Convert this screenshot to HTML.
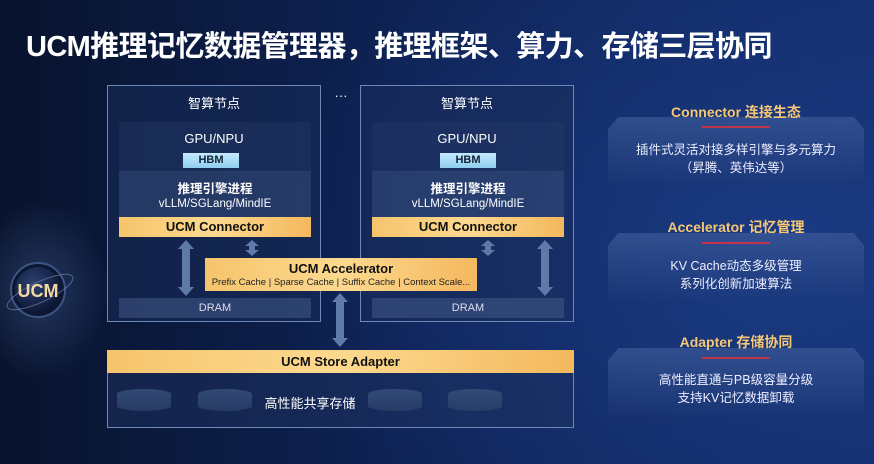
<!DOCTYPE html>
<html><head><meta charset="utf-8"><style>
*{margin:0;padding:0;box-sizing:border-box}
body{width:874px;height:464px;overflow:hidden;position:relative;font-family:"Liberation Sans","Noto Sans CJK SC",sans-serif;
background:radial-gradient(ellipse 500px 400px at 780px 250px,#1a3a82 0%,rgba(20,45,110,0) 100%),linear-gradient(90deg,#08132d 0%,#0e2253 45%,#132d6c 100%);color:#fff}
.a{position:absolute}
.t{font-weight:bold;font-size:29px;left:26px;top:23px;letter-spacing:-0.6px}
.node{border:1.5px solid #6d88b8;background:rgba(25,45,90,0.55)}
.c{text-align:center;white-space:nowrap}
.hbm{background:linear-gradient(#c4eaff,#8fcdf0);color:#123;font-size:11px;font-weight:bold;text-align:center;line-height:15px}
.eng{background:rgba(60,85,130,0.45)}
.org{background:linear-gradient(90deg,#f6c46c,#fcd98f 50%,#f4b85e);color:#111;font-weight:bold;text-align:center}
.dram{background:rgba(65,90,135,0.55);font-size:11px;text-align:center;line-height:20px;color:#dde}
.cyl{background:linear-gradient(#3a527e,#2a416a);border-radius:27px/5px;height:22px;width:54px;opacity:.8}
.pn{background:linear-gradient(rgba(70,100,160,0.55),rgba(30,55,110,0.15));clip-path:polygon(4% 0,96% 0,100% 18%,100% 100%,0 100%,0 18%)}
.h{color:#f6c874;font-weight:bold;font-size:14px}
.rl{height:2px;background:#c2344a;width:68px;left:702px}
.p{font-size:12.5px;line-height:18px;color:#eef}
</style></head><body>
<div class="a" style="left:0;top:200px;width:110px;height:230px;background:radial-gradient(ellipse 70px 90px at 40px 90px,rgba(90,120,180,.35),rgba(0,0,0,0))"></div>
<div class="a t">UCM推理记忆数据管理器，推理框架、算力、存储三层协同</div>

<div class="a node" style="left:107px;top:85px;width:214px;height:237px"></div>
<div class="a node" style="left:360px;top:85px;width:214px;height:237px"></div>
<div class="a c" style="left:324px;top:88px;width:34px;font-size:13px">···</div>

<div class="a c" style="left:107px;top:93px;width:214px;font-size:13px">智算节点</div>
<div class="a" style="left:119px;top:122px;width:192px;height:50px;background:rgba(40,60,105,.35)"></div>
<div class="a c" style="left:107px;top:131px;width:214px;font-size:13px">GPU/NPU</div>
<div class="a hbm" style="left:183px;top:153px;width:56px;height:15px">HBM</div>
<div class="a eng" style="left:119px;top:171px;width:192px;height:46px"></div>
<div class="a c" style="left:119px;top:178px;width:192px;font-size:12.5px;font-weight:bold">推理引擎进程</div>
<div class="a c" style="left:119px;top:198px;width:192px;font-size:11.5px">vLLM/SGLang/MindIE</div>
<div class="a org" style="left:119px;top:217px;width:192px;height:20px;font-size:13px;line-height:20px">UCM Connector</div>
<div class="a dram" style="left:119px;top:298px;width:192px;height:20px">DRAM</div>

<div class="a c" style="left:360px;top:93px;width:214px;font-size:13px">智算节点</div>
<div class="a" style="left:372px;top:122px;width:192px;height:50px;background:rgba(40,60,105,.35)"></div>
<div class="a c" style="left:360px;top:131px;width:214px;font-size:13px">GPU/NPU</div>
<div class="a hbm" style="left:440px;top:153px;width:56px;height:15px">HBM</div>
<div class="a eng" style="left:372px;top:171px;width:192px;height:46px"></div>
<div class="a c" style="left:372px;top:178px;width:192px;font-size:12.5px;font-weight:bold">推理引擎进程</div>
<div class="a c" style="left:372px;top:198px;width:192px;font-size:11.5px">vLLM/SGLang/MindIE</div>
<div class="a org" style="left:372px;top:217px;width:192px;height:20px;font-size:13px;line-height:20px">UCM Connector</div>
<div class="a dram" style="left:372px;top:298px;width:192px;height:20px">DRAM</div>

<svg class="a" style="left:0;top:0" width="874" height="464">
<radialGradient id="sg" cx="40%" cy="35%" r="70%"><stop offset="0" stop-color="#2c4270"/><stop offset="1" stop-color="#0a1430"/></radialGradient>
<g fill="#5f79a8">
<path d="M186 240 l8 9 h-4 v38 h4 l-8 9 l-8 -9 h4 v-38 h-4z"/>
<path d="M252 240 l7 6 h-4 v4 h4 l-7 6 l-7 -6 h4 v-4 h-4z"/>
<path d="M545 240 l8 9 h-4 v38 h4 l-8 9 l-8 -9 h4 v-38 h-4z"/>
<path d="M488 240 l7 6 h-4 v4 h4 l-7 6 l-7 -6 h4 v-4 h-4z"/>
<path d="M340 293 l8 9 h-4 v36 h4 l-8 9 l-8 -9 h4 v-36 h-4z"/>
</g>
<circle cx="38" cy="290" r="27" fill="#0b1630" stroke="#3c5584" stroke-width="2"/>
<circle cx="38" cy="290" r="23" fill="url(#sg)"/>
<ellipse cx="40" cy="292" rx="36" ry="10" fill="none" stroke="#6d82a8" stroke-width="1" transform="rotate(-25 40 292)" opacity=".7"/>
<text x="38" y="297" text-anchor="middle" font-family="Liberation Sans" font-weight="bold" font-size="18" fill="#f5d9a0">UCM</text>
</svg>

<div class="a org" style="left:205px;top:258px;width:272px;height:33px"></div>
<div class="a c" style="left:205px;top:261px;width:272px;font-size:13px;font-weight:bold;color:#111">UCM Accelerator</div>
<div class="a c" style="left:205px;top:277px;width:272px;font-size:9.5px;color:#222">Prefix Cache | Sparse Cache | Suffix Cache | Context Scale...</div>

<div class="a org" style="left:107px;top:350px;width:467px;height:23px;font-size:13px;line-height:23px">UCM Store Adapter</div>
<div class="a" style="left:107px;top:373px;width:467px;height:55px;border:1.5px solid #6d88b8;border-top:none;background:rgba(30,50,95,.5)"></div>
<div class="a cyl" style="left:117px;top:389px"></div>
<div class="a cyl" style="left:198px;top:389px"></div>
<div class="a cyl" style="left:368px;top:389px"></div>
<div class="a cyl" style="left:448px;top:389px"></div>
<div class="a c" style="left:260px;top:393px;width:100px;font-size:13px">高性能共享存储</div>

<div class="a pn" style="left:608px;top:117px;width:256px;height:68px"></div>
<div class="a pn" style="left:608px;top:233px;width:256px;height:68px"></div>
<div class="a pn" style="left:608px;top:348px;width:256px;height:70px"></div>
<div class="a c h" style="left:608px;top:102px;width:256px">Connector 连接生态</div>
<div class="a rl" style="top:126px"></div>
<div class="a c p" style="left:608px;top:141px;width:256px">插件式灵活对接多样引擎与多元算力<br>（昇腾、英伟达等）</div>
<div class="a c h" style="left:608px;top:217px;width:256px">Accelerator 记忆管理</div>
<div class="a rl" style="top:242px"></div>
<div class="a c p" style="left:608px;top:257px;width:256px">KV Cache动态多级管理<br>系列化创新加速算法</div>
<div class="a c h" style="left:608px;top:332px;width:256px">Adapter 存储协同</div>
<div class="a rl" style="top:357px"></div>
<div class="a c p" style="left:608px;top:371px;width:256px">高性能直通与PB级容量分级<br>支持KV记忆数据卸载</div>
</body></html>
